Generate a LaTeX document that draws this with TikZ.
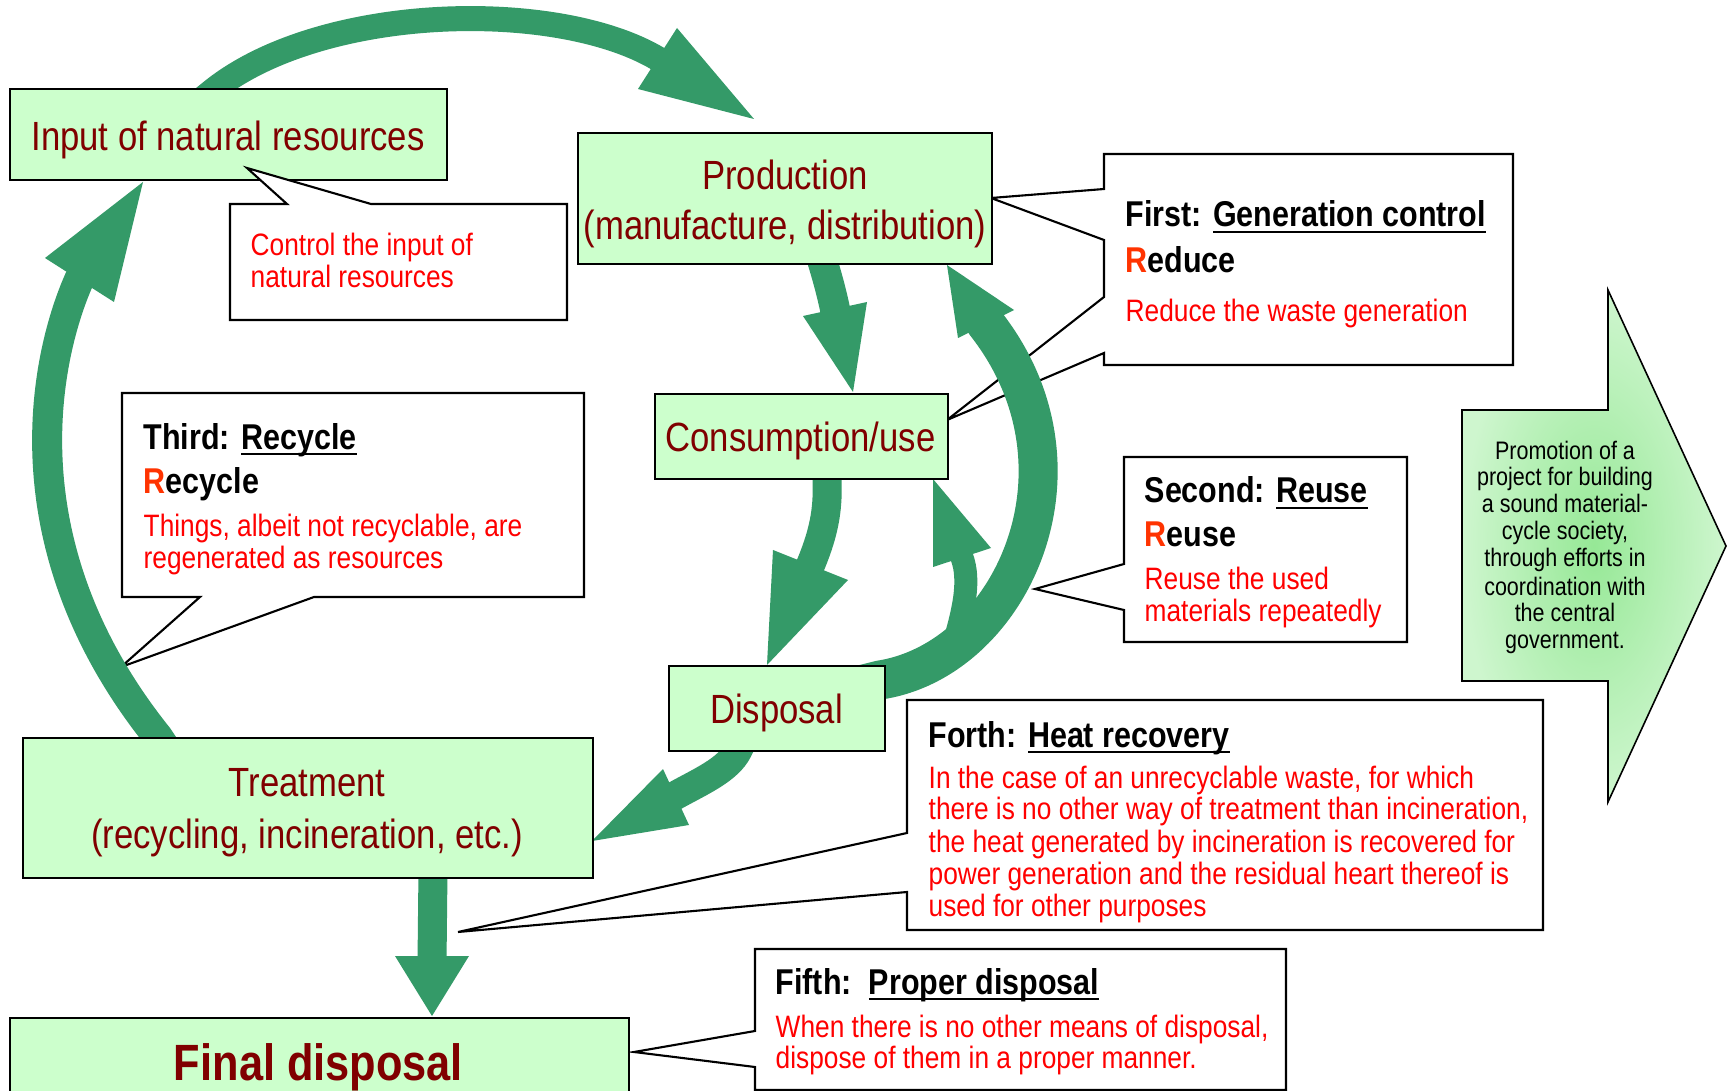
\documentclass[tikz,border=0pt]{standalone}
\usepackage{fontspec}
\setmainfont{Liberation Sans}[FakeStretch=0.85]
\usetikzlibrary{calc}
\definecolor{agreen}{RGB}{52,154,104}
\definecolor{boxfill}{RGB}{204,255,204}
\definecolor{dred}{RGB}{128,0,0}
\definecolor{bred}{RGB}{255,0,0}
\definecolor{rred}{RGB}{255,51,0}
\definecolor{promoin}{RGB}{150,232,150}
\definecolor{promoout}{RGB}{206,246,206}
\newcommand{\labfont}{\fontsize{11.6}{14}\selectfont}
\newcommand{\headfont}{\fontsize{10.2}{12}\selectfont\bfseries}
\newcommand{\bodyfont}{\fontsize{8.8}{10.5}\selectfont}
\newcommand{\promofont}{\fontsize{7.2}{8.6}\selectfont}
\newcommand{\finalfont}{\fontsize{14.5}{17}\selectfont\bfseries}
\newcommand{\uln}[1]{\setbox0\hbox{#1}\rlap{\rule[-1.6pt]{\wd0}{0.55pt}}\box0}
\begin{document}
\begin{tikzpicture}[x=0.01cm, y=-0.01cm,
  box/.style={draw=black, line width=0.6pt, fill=boxfill, rectangle, inner sep=0pt, anchor=north west},
  callout/.style={draw=black, line width=0.6pt, fill=white},
  shaft/.style={draw=agreen, line cap=butt},
  ahead/.style={fill=agreen},
  lab/.style={font=\labfont, text=dred, inner sep=0pt, anchor=base},
  headt/.style={font=\headfont, text=black, inner sep=0pt, anchor=base west},
  body/.style={font=\bodyfont, text=bred, inner sep=0pt, anchor=base west},
  promo/.style={font=\promofont, text=black, inner sep=0pt, anchor=base}]
\useasboundingbox (0,0) rectangle (1729,1091);
\fill[white] (0,0) rectangle (1729,1091);
\clip (0,0) rectangle (1729,1091);

% ---------- callouts (behind arrows) ----------
\draw[callout] (1104,154) -- (1513,154) -- (1513,365) -- (1104,365) -- (1104,353) -- (947,420) -- (1104,297) -- (1104,240) -- (991,198) -- (1104,189) -- cycle;
\draw[callout] (122,393) -- (584,393) -- (584,597) -- (314,597) -- (121,667) -- (200,597) -- (122,597) -- cycle;
\draw[callout] (1124,457) -- (1407,457) -- (1407,642) -- (1124,642) -- (1124,610) -- (1035,589) -- (1124,564) -- cycle;
\draw[callout] (907,700) -- (1543,700) -- (1543,930) -- (907,930) -- (907,892) -- (458,932) -- (907,833) -- cycle;
\draw[callout] (755,949) -- (1286,949) -- (1286,1090) -- (755,1090) -- (755,1067) -- (634,1052) -- (755,1031) -- cycle;

% ---------- promotion arrow ----------
\shade[inner color=promoin, outer color=promoout] (1462,410) -- (1608,410) -- (1608,290) -- (1726,546) -- (1608,802) -- (1608,681) -- (1462,681) -- cycle;
\draw[line width=0.45pt] (1462,410) -- (1608,410) -- (1608,290) -- (1726,546) -- (1608,802) -- (1608,681) -- (1462,681) -- cycle;

% ---------- green arrows ----------
% A: input -> production
\coordinate (aS) at (211,92);
\coordinate (aM) at (657.5,58.5);
\coordinate (aT) at (754,119);
\draw[shaft, line width=2.5mm] (195,105) -- (aS) .. controls (319,4) and (555,-2) .. (aM) -- (664,63);
\fill[ahead] (aT) -- (677,28) -- (638,89) -- cycle;
% B: treatment -> input
\coordinate (bS) at (158,737);
\coordinate (bM) at (79,280);
\coordinate (bT) at (143,182);
\draw[shaft, line width=3.0mm] (164,746) -- (bS) .. controls (0,540) and (48,350) .. (bM) -- (83.4,273.3);
\fill[ahead] (bT) -- (45,258) -- (114,302) -- cycle;
% C: production -> consumption
\coordinate (cS) at (823,263);
\coordinate (cM) at (835,309);
\coordinate (cT) at (853,392);
\draw[shaft, line width=3.0mm] (821,245) -- (cS) .. controls (829,283) and (832,295) .. (cM) -- (836.7,316.8);
\fill[ahead] (cT) -- (803,316) -- (867,302) -- cycle;
% D: consumption -> disposal
\coordinate (dS) at (827,478);
\coordinate (dM) at (810.5,565);
\coordinate (dT) at (767,665);
\draw[shaft, line width=2.9mm] (827,465) -- (dS) .. controls (828,505) and (826,528) .. (dM) -- (807.3,572.3);
\fill[ahead] (dT) -- (773,550) -- (848,580) -- cycle;
% F: disposal -> production (big loop)
\coordinate (fS) at (880,680);
\coordinate (fM) at (986,324);
\coordinate (fT) at (947,265);
\draw[shaft, line width=3.9mm] (860,685) -- (fS) .. controls (1010,660) and (1100,470) .. (fM) -- (981.6,317.3);
\fill[ahead] (fT) -- (958,338) -- (1014,310) -- cycle;
% E: disposal -> consumption (small return)
\coordinate (eS) at (955,640);
\coordinate (eM) at (962,557.5);
\coordinate (eT) at (933,479);
\draw[shaft, line width=2.3mm] (eS) .. controls (963,612) and (970.7,581) .. (eM) -- (959.2,550);
\fill[ahead] (eT) -- (933,567) -- (991,548) -- cycle;
% G: disposal -> treatment
\coordinate (gS) at (738,750);
\coordinate (gM) at (674.5,796);
\coordinate (gT) at (592,841);
\draw[shaft, line width=2.9mm] (743.4,739.3) -- (gS) .. controls (728,770) and (700.7,781.4) .. (gM) -- (667.5,799.8);
\fill[ahead] (gT) -- (663,769) -- (689,825) -- cycle;
% H: treatment -> final disposal
\coordinate (hS) at (433,870);
\coordinate (hM) at (432,956);
\coordinate (hT) at (432,1016);
\draw[shaft, line width=2.9mm] (hS) -- (432,964);
\fill[ahead] (hT) -- (395,956) -- (469,956) -- cycle;

% ---------- main boxes ----------
\node[box, minimum width=4.37cm, minimum height=0.91cm] (input) at (9,88) {};
\node[box, minimum width=4.14cm, minimum height=1.31cm] (prod) at (577,132) {};
\node[box, minimum width=2.93cm, minimum height=0.85cm] (cons) at (654,393) {};
\node[box, minimum width=2.16cm, minimum height=0.85cm] (disp) at (668,665) {};
\node[box, minimum width=5.70cm, minimum height=1.40cm] (treat) at (22,737) {};
\node[box, minimum width=6.19cm, minimum height=1.10cm] (final) at (9,1017) {};

% control callout (over input box)
\draw[callout] (230,204) -- (287,204) -- (247,168) -- (371,204) -- (567,204) -- (567,320) -- (230,320) -- cycle;

% ---------- box labels ----------
\node[lab] (inputT) at (228,151) {Input of natural resources};
\node[lab] (prodT1) at (785,190) {Production};
\node[lab] (prodT2) at (785,240) {(manufacture, distribution)};
\node[lab] (consT) at (800.5,452) {Consumption/use};
\node[lab] (dispT) at (776.5,724) {Disposal};
\node[lab] (treatT1) at (307,796) {Treatment};
\node[lab] (treatT2) at (307,848) {(recycling, incineration, etc.)};
\node[lab, font=\finalfont] (finalT) at (318.5,1080) {Final disposal};

% ---------- callout texts ----------
\node[body] (ctl1) at (250,256) {Control the input of};
\node[body] (ctl2) at (250,288) {natural resources};

\node[headt] (firstH) at (1125,227) {First: \uln{Generation control}};
\node[headt] (firstR) at (1125,273) {\textcolor{rred}{R}educe};
\node[body] (firstB) at (1125,322) {Reduce the waste generation};

\node[headt] (thirdH) at (143,449) {Third: \uln{Recycle}};
\node[headt] (thirdR) at (143,494) {\textcolor{rred}{R}ecycle};
\node[body] (thirdB1) at (143,537) {Things, albeit not recyclable, are};
\node[body] (thirdB2) at (143,569) {regenerated as resources};

\node[headt] (secH) at (1144,503) {Second: \uln{Reuse}};
\node[headt] (secR) at (1144,547) {\textcolor{rred}{R}euse};
\node[body] (secB1) at (1144,590) {Reuse the used};
\node[body] (secB2) at (1144,622) {materials repeatedly};

\node[headt] (forthH) at (928,747) {Forth: \uln{Heat recovery}};
\node[body] (forthB1) at (928,788) {In the case of an unrecyclable waste, for which};
\node[body] (forthB2) at (928,820) {there is no other way of treatment than incineration,};
\node[body] (forthB3) at (928,852) {the heat generated by incineration is recovered for};
\node[body] (forthB4) at (928,884) {power generation and the residual heart thereof is};
\node[body] (forthB5) at (928,916) {used for other purposes};

\node[headt] (fifthH) at (775,994) {Fifth:\ \ \uln{Proper disposal}};
\node[body] (fifthB1) at (775,1037) {When there is no other means of disposal,};
\node[body] (fifthB2) at (775,1068) {dispose of them in a proper manner.};

% ---------- promotion text ----------
\node[promo] (pr1) at (1565,459) {Promotion of a};
\node[promo] (pr2) at (1565,486) {project for building};
\node[promo] (pr3) at (1565,513) {a sound material-};
\node[promo] (pr4) at (1565,540) {cycle society,};
\node[promo] (pr5) at (1565,567) {through efforts in};
\node[promo] (pr6) at (1565,595) {coordination with};
\node[promo] (pr7) at (1565,622) {the central};
\node[promo] (pr8) at (1565,649) {government.};
\end{tikzpicture}
\end{document}
